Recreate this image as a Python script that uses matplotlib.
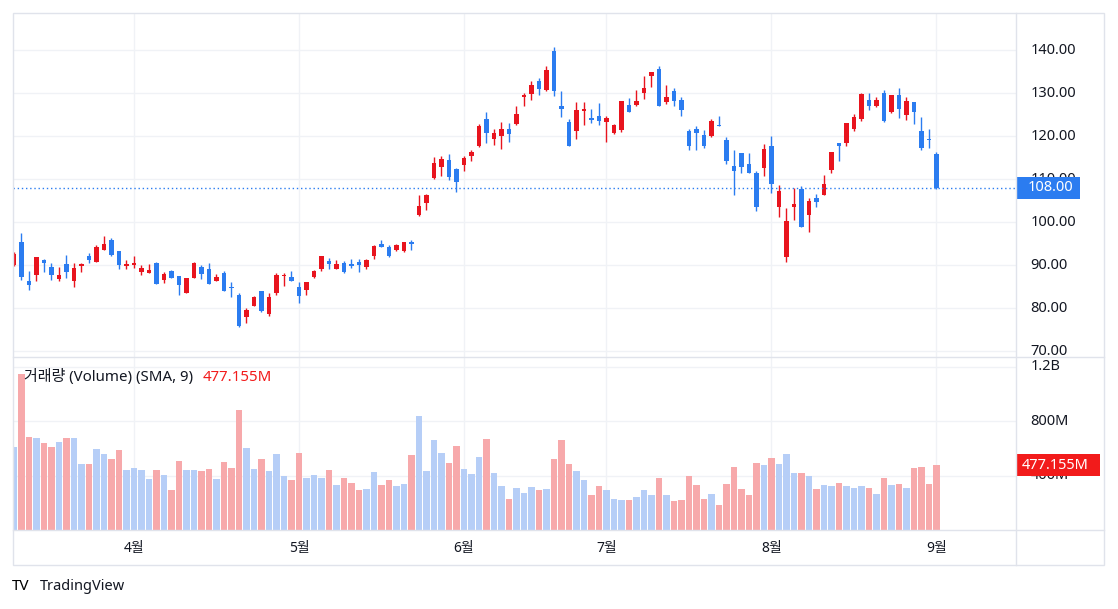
import matplotlib.pyplot as plt
import matplotlib.transforms as mtransforms
from matplotlib.patches import Rectangle
from matplotlib.lines import Line2D
import numpy as np

plt.rcParams['font.family'] = ['Noto Sans', 'Noto Sans CJK KR', 'DejaVu Sans']

# daily candles, March to 1 September
opens = [90.0, 95.3, 86.3, 87.8, 91.1, 89.5, 86.7, 90.3, 86.4, 89.7,
         92.2, 90.8, 93.6, 95.9, 93.2, 89.8, 90.0, 88.3, 88.2, 90.4,
         86.6, 88.7, 87.5, 83.6, 87.1, 89.5, 89.1, 86.2, 88.2, 84.9,
         83.1, 77.9, 80.5, 84.0, 78.6, 83.5, 87.4, 87.3, 85.0, 84.3,
         87.3, 89.1, 91.0, 89.2, 90.5, 90.3, 90.7, 89.5, 92.2, 95.0,
         94.2, 93.6, 93.3, 95.4, 101.7, 104.4, 110.2, 112.9, 114.5, 112.3,
         113.3, 115.4, 117.7, 124.0, 119.4, 120.1, 121.6, 122.9, 129.2, 129.7,
         132.8, 130.7, 139.8, 127.0, 123.2, 121.1, 125.9, 124.1, 124.6, 123.2,
         120.8, 121.5, 127.3, 127.3, 130.1, 133.9, 135.6, 128.0, 130.5, 128.4,
         121.2, 121.7, 120.3, 120.1, 122.6, 119.1, 113.1, 116.0, 113.6, 111.5,
         112.7, 117.6, 103.6, 91.8, 103.6, 107.7, 101.7, 105.6, 106.2, 112.2,
         118.5, 118.5, 121.7, 123.9, 128.4, 127.1, 130.0, 125.6, 129.6, 124.8,
         127.9, 121.2, 119.4, 115.9]
highs = [93.0, 97.4, 88.7, 92.0, 91.5, 90.6, 89.5, 92.4, 90.5, 90.4,
         92.8, 94.7, 96.8, 96.4, 93.2, 91.2, 92.2, 90.1, 90.3, 90.7,
         88.4, 88.9, 87.5, 87.1, 90.8, 90.1, 90.6, 88.0, 88.6, 86.0,
         83.6, 80.1, 82.8, 84.0, 83.4, 88.1, 88.1, 88.7, 86.0, 86.0,
         88.9, 92.2, 91.6, 91.2, 91.0, 91.4, 91.5, 91.4, 94.7, 95.9,
         94.7, 94.9, 95.4, 95.9, 106.3, 106.5, 115.1, 115.4, 115.9, 112.7,
         115.3, 116.7, 122.8, 125.5, 121.6, 123.3, 123.0, 126.9, 130.0, 132.9,
         133.6, 136.4, 140.8, 130.5, 124.0, 128.0, 128.0, 126.3, 127.8, 124.7,
         122.9, 128.2, 128.8, 130.7, 133.9, 134.9, 136.2, 131.9, 131.2, 129.0,
         121.7, 122.4, 121.5, 124.0, 124.7, 119.8, 116.7, 116.0, 116.0, 112.0,
         118.2, 120.1, 108.7, 103.3, 107.9, 108.3, 105.6, 106.5, 111.0, 116.2,
         118.5, 123.0, 125.1, 130.0, 130.0, 129.0, 130.8, 129.6, 131.3, 129.1,
         128.0, 124.4, 121.7, 116.2]
lows = [89.8, 86.6, 84.1, 86.2, 88.5, 86.6, 86.2, 87.1, 85.0, 88.3,
        90.5, 90.8, 93.6, 92.2, 89.1, 89.1, 89.3, 87.6, 88.2, 85.7,
        85.8, 86.9, 83.1, 83.6, 86.9, 86.7, 85.7, 86.2, 83.9, 82.5,
        75.7, 76.5, 80.4, 79.0, 78.2, 83.1, 85.2, 86.2, 81.3, 83.1,
        87.0, 88.6, 89.1, 89.0, 88.1, 89.3, 88.5, 89.1, 91.5, 94.1,
        91.8, 93.3, 93.1, 93.4, 101.5, 102.9, 110.0, 110.8, 109.7, 106.9,
        112.0, 114.1, 117.4, 118.4, 118.0, 117.0, 118.7, 122.6, 127.0, 128.3,
        129.6, 130.6, 129.4, 124.4, 117.7, 119.4, 122.6, 123.0, 122.6, 118.7,
        120.5, 121.0, 125.7, 127.1, 128.6, 131.5, 127.1, 127.4, 126.9, 124.6,
        116.7, 116.7, 117.2, 119.9, 122.4, 113.5, 106.4, 111.5, 111.4, 102.5,
        110.8, 106.7, 101.3, 90.8, 100.5, 98.8, 97.6, 103.4, 106.2, 111.5,
        114.1, 117.6, 121.3, 123.4, 126.0, 126.7, 123.2, 125.3, 124.3, 123.8,
        122.8, 116.8, 117.3, 107.6]
closes = [92.6, 87.3, 85.4, 91.9, 90.6, 87.8, 87.7, 88.3, 89.3, 90.3,
          91.2, 94.3, 95.0, 92.4, 90.1, 90.3, 90.4, 89.4, 88.9, 85.7,
          88.0, 86.9, 85.3, 87.0, 90.6, 88.0, 85.7, 87.3, 83.9, 84.6,
          75.9, 79.6, 82.5, 79.4, 82.6, 87.7, 87.7, 86.2, 82.9, 86.0,
          88.7, 92.2, 90.3, 90.3, 88.5, 89.7, 90.1, 91.2, 94.5, 94.1,
          92.2, 94.7, 95.4, 94.9, 103.8, 106.3, 113.7, 114.7, 110.4, 109.4,
          115.0, 116.4, 122.4, 120.8, 120.7, 121.6, 120.5, 125.2, 129.6, 131.9,
          130.9, 135.4, 130.6, 126.4, 117.7, 126.1, 126.4, 123.8, 123.4, 124.2,
          122.6, 128.2, 125.7, 128.2, 131.3, 134.9, 127.1, 129.1, 128.2, 126.1,
          117.7, 120.8, 117.7, 123.6, 122.4, 114.1, 112.0, 112.9, 111.4, 103.6,
          117.0, 108.9, 107.3, 100.3, 104.3, 98.8, 105.0, 104.6, 108.9, 116.2,
          117.8, 123.0, 124.5, 129.8, 127.1, 128.4, 123.6, 129.6, 126.3, 128.2,
          125.6, 117.3, 119.1, 108.0]
# volume in millions
volumes = [611, 1145, 683, 675, 639, 609, 646, 675, 675, 484,
           484, 595, 558, 521, 587, 440, 455, 440, 374, 440,
           404, 294, 506, 440, 440, 433, 448, 374, 499, 455,
           881, 602, 448, 521, 433, 558, 396, 367, 565, 382,
           404, 382, 440, 330, 382, 345, 294, 301, 426, 330,
           367, 323, 338, 550, 837, 433, 661, 565, 492, 617,
           448, 411, 536, 668, 418, 323, 228, 308, 272, 316,
           294, 301, 521, 661, 484, 433, 367, 257, 323, 294,
           228, 220, 220, 242, 294, 257, 382, 257, 213, 220,
           396, 330, 228, 264, 184, 338, 462, 301, 257, 492,
           477, 528, 484, 558, 418, 418, 396, 301, 330, 323,
           345, 323, 308, 323, 308, 264, 382, 330, 338, 308,
           455, 462, 338, 477.155]

month_pos = [16, 38, 60, 79, 101, 123]
month_labels = ['4월', '5월', '6월', '7월', '8월', '9월']
price_ticks = [70, 80, 90, 100, 110, 120, 130, 140]
vol_ticks = [400, 800, 1200]
vol_labels = ['400M', '800M', '1.2B']

RED = '#e8141e'
BLUE = '#2b7cf0'
VRED = '#f7a9ab'
VBLUE = '#b6cef7'
GRID = '#f0f2f6'
BORDER = '#e0e3eb'
TXT = '#131722'

W, H = 1118, 609


def box(x0, y0, x1, y1):
    return [x0 / W, 1 - y1 / H, (x1 - x0) / W, (y1 - y0) / H]


fig = plt.figure(figsize=(W / 100, H / 100), dpi=100)
ax = fig.add_axes(box(12.7, 12.7, 1015.7, 356.7))
axv = fig.add_axes(box(12.7, 357, 1015.7, 530), sharex=ax)
axp = fig.add_axes(box(1015.7, 12.7, 1104, 356.7), sharey=ax)
axvs = fig.add_axes(box(1015.7, 357, 1104, 530), sharey=axv)

x = np.arange(len(closes))
o = np.array(opens)
c = np.array(closes)
up = c >= o
col = np.where(up, RED, BLUE)

# candles
ax.vlines(x, lows, highs, colors=col, lw=1, zorder=2)
ax.bar(x, np.maximum(np.abs(c - o), 0.25), bottom=np.minimum(o, c),
       width=0.66, color=col, linewidth=0, zorder=3)
ax.axhline(closes[-1], color=BLUE, lw=1, ls=(0, (1, 2)), zorder=4)

# volume (colour inverted relative to candle)
axv.bar(x, volumes, width=0.84, color=np.where(up, VBLUE, VRED), linewidth=0, zorder=2)

ax.set_xlim(-0.17, 133.56)
ax.set_ylim(68.7, 148.7)
axv.set_ylim(0, 1270)

for a in (ax, axv):
    for s in a.spines.values():
        s.set_visible(False)
    a.grid(True, color=GRID, lw=1, zorder=0)
    a.set_xticks(month_pos)
    a.tick_params(length=0, labelleft=False)
ax.set_yticks(price_ticks)
axv.set_yticks(vol_ticks)
ax.tick_params(labelbottom=False)
axv.set_xticklabels(month_labels, fontweight='medium')
axv.tick_params(axis='x', pad=8, labelsize=10, labelcolor=TXT)

for a in (axp, axvs):
    a.set_axis_off()

tp = mtransforms.blended_transform_factory(axp.transAxes, axp.transData)
for t in price_ticks:
    axp.text(0.165, t, f'{t:.2f}', transform=tp, va='center', ha='left',
             fontsize=10.5, color=TXT, clip_on=True, zorder=3)
axp.add_patch(Rectangle((0, closes[-1] - 2.55), 0.73, 5.1, transform=tp,
                        color=BLUE, lw=0, zorder=4))
axp.text(0.14, closes[-1], f'{closes[-1]:.2f}', transform=tp, va='center',
         ha='left', fontsize=10.5, color='white', zorder=5)

tv = mtransforms.blended_transform_factory(axvs.transAxes, axvs.transData)
for t, lab in zip(vol_ticks, vol_labels):
    axvs.text(0.165, t, lab, transform=tv, va='center', ha='left',
              fontsize=10.5, color=TXT, clip_on=True, zorder=3)
axvs.add_patch(Rectangle((0, volumes[-1] - 80), 0.96, 160, transform=tv,
                         color='#f21b1b', lw=0, zorder=4))
axvs.text(0.07, volumes[-1], f'{volumes[-1]:.3f}M', transform=tv, va='center',
          ha='left', fontsize=10.5, color='white', zorder=5)

axv.text(11.3 / 1003, 0.884, '거래량 (Volume) (SMA, 9)', transform=axv.transAxes,
         va='center', ha='left', fontsize=10.8, color=TXT)
axv.text(189.5 / 1003, 0.884, f'{volumes[-1]:.3f}M', transform=axv.transAxes,
         va='center', ha='left', fontsize=10.8, color='#f21b1b')

# frame and separators
fig.add_artist(Rectangle((12.7 / W, 1 - 565 / H), (1104 - 12.7) / W, (565 - 12.7) / H,
                         transform=fig.transFigure, fill=False, ec=BORDER, lw=1))
for yy in (357, 530):
    fig.add_artist(Line2D([12.7 / W, 1104 / W], [1 - yy / H, 1 - yy / H],
                          transform=fig.transFigure, color=BORDER, lw=1))
fig.add_artist(Line2D([1015.7 / W, 1015.7 / W], [1 - 12.7 / H, 1 - 565 / H],
                      transform=fig.transFigure, color=BORDER, lw=1))

fig.text(12 / W, 1 - 587 / H, 'TV', fontsize=11, fontweight='heavy', va='center', color='black')
fig.text(40 / W, 1 - 587 / H, 'TradingView', fontsize=10.5, va='center', color=TXT)

fig.savefig('out.png', dpi=100, facecolor='white')
